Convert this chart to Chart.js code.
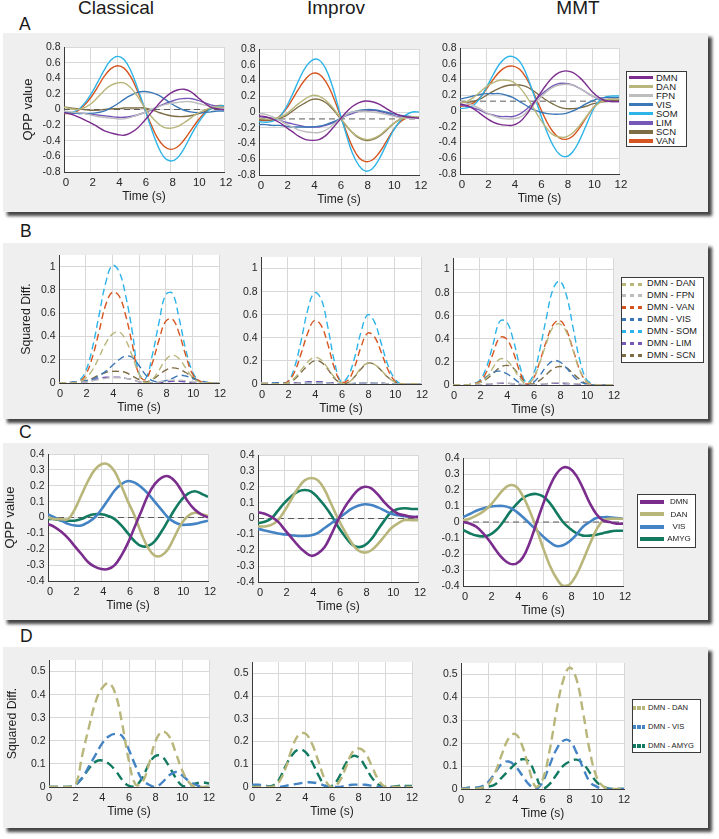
<!DOCTYPE html>
<html><head><meta charset="utf-8">
<script src="https://cdn.jsdelivr.net/npm/chart.js@4/dist/chart.umd.min.js"></script>
<style>
html,body{margin:0;padding:0;background:#fff;}
body{width:719px;height:839px;position:relative;overflow:hidden;font-family:"Liberation Sans",Arial,sans-serif;color:#1a1a1a;}
.panel{position:absolute;background:#efefef;box-shadow:4px 4px 3px rgba(35,35,35,0.85);}
.lbl{position:absolute;white-space:nowrap;line-height:1;}
canvas{position:absolute;}
.legend{position:absolute;background:#fff;border:1.3px solid #3a3a3a;box-sizing:border-box;}
.li{position:absolute;white-space:nowrap;}
</style></head><body>
<script>
// ---------------- DATA ----------------
const timeS = [0,0.5,1,1.5,2,2.5,3,3.5,4,4.5,5,5.5,6,6.5,7,7.5,8,8.5,9,9.5,10,10.5,11,11.5,12];
const conditions = ['Classical','Improv','MMT'];
const panelLetters = ['A','B','C','D'];
const networksA = ['DMN','DAN','FPN','VIS','SOM','LIM','SCN','VAN'];
const pairsB = ['DMN - DAN','DMN - FPN','DMN - VAN','DMN - VIS','DMN - SOM','DMN - LIM','DMN - SCN'];
const networksC = ['DMN','DAN','VIS','AMYG'];
const pairsD = ['DMN - DAN','DMN - VIS','DMN - AMYG'];
const refLineA = [0, -0.088, 0.125];
const refLineC = [0, 0, 0];
const yRangeQppA = [-0.8, 0.8, 0.2];
const yRangeSqB = [0, 1.1, 0.2];
const yRangeQppC = [-0.4, 0.4, 0.1];
const yRangeSqD = [0, 0.55, 0.1];
const xRangeTime = [0, 12, 2];

// A - Classical
const aClassical_DMN = [-0.04,-0.06,-0.09,-0.13,-0.17,-0.22,-0.27,-0.30,-0.32,-0.33,-0.30,-0.24,-0.15,-0.05,0.05,0.14,0.21,0.25,0.26,0.23,0.16,0.09,0.03,0.01,0.0];
const aClassical_DAN = [0.03,0.01,0.0,0.02,0.07,0.15,0.24,0.31,0.34,0.34,0.28,0.17,0.04,-0.08,-0.17,-0.23,-0.24,-0.22,-0.17,-0.11,-0.05,-0.01,0.02,0.03,0.03];
const aClassical_FPN = [-0.02,-0.03,-0.04,-0.05,-0.07,-0.09,-0.10,-0.11,-0.12,-0.12,-0.10,-0.07,-0.04,0.0,0.03,0.06,0.08,0.09,0.10,0.10,0.08,0.06,0.04,0.03,0.02];
const aClassical_VIS = [-0.03,-0.04,-0.05,-0.05,-0.05,-0.04,-0.02,0.02,0.07,0.13,0.18,0.22,0.23,0.22,0.19,0.14,0.08,0.03,-0.01,-0.03,-0.04,-0.04,-0.03,-0.02,-0.02];
const aClassical_SOM = [-0.04,-0.04,-0.01,0.07,0.19,0.34,0.50,0.63,0.68,0.64,0.50,0.28,0.04,-0.22,-0.45,-0.61,-0.66,-0.62,-0.50,-0.34,-0.19,-0.07,0.01,0.04,0.05];
const aClassical_LIM = [-0.04,-0.04,-0.05,-0.05,-0.06,-0.07,-0.08,-0.09,-0.10,-0.10,-0.09,-0.07,-0.04,-0.01,0.03,0.07,0.10,0.13,0.14,0.14,0.12,0.09,0.06,0.04,0.03];
const aClassical_SCN = [0.03,0.02,0.01,0.0,-0.01,-0.01,0.0,0.01,0.01,0.02,0.02,0.02,0.02,0.0,-0.03,-0.06,-0.08,-0.09,-0.09,-0.08,-0.06,-0.03,0.01,0.03,0.04];
const aClassical_VAN = [-0.05,-0.05,-0.02,0.05,0.15,0.28,0.42,0.52,0.56,0.53,0.42,0.24,0.03,-0.18,-0.36,-0.47,-0.51,-0.48,-0.39,-0.27,-0.15,-0.05,0.02,0.05,0.05];
// A - Improv
const aImprov_DMN = [-0.05,-0.06,-0.09,-0.13,-0.19,-0.25,-0.31,-0.35,-0.36,-0.35,-0.30,-0.21,-0.11,-0.01,0.07,0.12,0.14,0.13,0.10,0.05,0.0,-0.04,-0.06,-0.07,-0.08];
const aImprov_DAN = [-0.08,-0.09,-0.09,-0.07,-0.03,0.04,0.11,0.17,0.21,0.20,0.15,0.06,-0.05,-0.16,-0.26,-0.32,-0.35,-0.34,-0.30,-0.23,-0.16,-0.10,-0.07,-0.06,-0.06];
const aImprov_FPN = [-0.02,-0.03,-0.06,-0.10,-0.15,-0.19,-0.23,-0.25,-0.26,-0.26,-0.23,-0.17,-0.10,-0.04,0.0,0.01,0.01,0.0,-0.01,-0.03,-0.05,-0.07,-0.08,-0.08,-0.08];
const aImprov_VIS = [-0.16,-0.16,-0.17,-0.17,-0.18,-0.19,-0.19,-0.19,-0.19,-0.18,-0.16,-0.13,-0.09,-0.04,0.0,0.02,0.03,0.03,0.02,0.0,-0.02,-0.04,-0.05,-0.06,-0.06];
const aImprov_SOM = [-0.12,-0.13,-0.12,-0.07,0.05,0.22,0.41,0.57,0.66,0.66,0.55,0.33,0.03,-0.26,-0.52,-0.68,-0.75,-0.72,-0.60,-0.43,-0.26,-0.13,-0.04,0.0,0.0];
const aImprov_LIM = [-0.06,-0.07,-0.08,-0.10,-0.13,-0.15,-0.17,-0.19,-0.19,-0.19,-0.17,-0.14,-0.10,-0.05,-0.02,0.01,0.02,0.02,0.01,-0.01,-0.04,-0.06,-0.07,-0.08,-0.08];
const aImprov_SCN = [-0.10,-0.10,-0.10,-0.08,-0.05,0.01,0.07,0.12,0.16,0.16,0.12,0.04,-0.06,-0.17,-0.26,-0.33,-0.36,-0.35,-0.31,-0.24,-0.16,-0.10,-0.07,-0.06,-0.06];
const aImprov_VAN = [-0.10,-0.11,-0.10,-0.06,0.03,0.16,0.30,0.42,0.49,0.48,0.39,0.22,0.0,-0.23,-0.44,-0.58,-0.63,-0.61,-0.52,-0.39,-0.25,-0.14,-0.08,-0.06,-0.06];
// A - MMT
const aMMT_DMN = [0.09,0.07,0.03,-0.03,-0.09,-0.14,-0.17,-0.18,-0.18,-0.14,-0.05,0.08,0.21,0.33,0.43,0.49,0.51,0.49,0.43,0.34,0.24,0.17,0.13,0.12,0.12];
const aMMT_DAN = [0.10,0.12,0.17,0.24,0.31,0.36,0.39,0.39,0.37,0.30,0.19,0.05,-0.09,-0.21,-0.30,-0.33,-0.33,-0.28,-0.19,-0.08,0.03,0.10,0.14,0.15,0.15];
const aMMT_FPN = [0.12,0.10,0.07,0.03,-0.02,-0.06,-0.09,-0.10,-0.10,-0.08,-0.02,0.07,0.16,0.24,0.30,0.33,0.34,0.33,0.29,0.24,0.19,0.16,0.15,0.15,0.15];
const aMMT_VIS = [0.15,0.17,0.19,0.21,0.22,0.22,0.22,0.20,0.17,0.12,0.07,0.02,-0.01,-0.03,-0.04,-0.04,-0.03,0.0,0.04,0.09,0.13,0.16,0.17,0.17,0.17];
const aMMT_SOM = [0.03,0.04,0.07,0.16,0.30,0.46,0.60,0.68,0.69,0.63,0.47,0.24,0.0,-0.24,-0.43,-0.55,-0.58,-0.52,-0.38,-0.19,0.0,0.13,0.18,0.19,0.19];
const aMMT_LIM = [0.08,0.06,0.04,0.01,-0.03,-0.05,-0.07,-0.07,-0.07,-0.04,0.02,0.10,0.19,0.26,0.32,0.35,0.35,0.33,0.29,0.24,0.19,0.15,0.13,0.12,0.12];
const aMMT_SCN = [0.12,0.11,0.12,0.15,0.20,0.25,0.29,0.32,0.33,0.33,0.31,0.26,0.20,0.14,0.09,0.05,0.03,0.03,0.04,0.06,0.09,0.11,0.12,0.13,0.13];
const aMMT_VAN = [0.06,0.07,0.10,0.17,0.28,0.40,0.50,0.56,0.57,0.53,0.42,0.25,0.06,-0.12,-0.26,-0.34,-0.36,-0.32,-0.22,-0.09,0.03,0.11,0.14,0.15,0.15];

// B - Classical (squared differences)
const bClassical_DAN = [0,0,0,0.01,0.04,0.11,0.22,0.34,0.42,0.44,0.37,0.23,0.08,0.0,0.03,0.11,0.2,0.24,0.21,0.13,0.05,0.01,0,0,0];
const bClassical_FPN = [0,0,0,0.01,0.01,0.02,0.03,0.04,0.045,0.045,0.04,0.03,0.01,0,0,0.01,0.02,0.025,0.025,0.02,0.01,0.01,0,0,0];
const bClassical_VAN = [0,0,0,0.01,0.07,0.22,0.44,0.67,0.78,0.75,0.58,0.33,0.07,0.03,0.17,0.37,0.53,0.55,0.43,0.24,0.08,0.02,0,0,0];
const bClassical_VIS = [0,0,0.01,0.01,0.02,0.03,0.06,0.1,0.15,0.2,0.23,0.22,0.15,0.07,0.02,0.01,0.02,0.04,0.065,0.06,0.04,0.02,0.01,0,0];
const bClassical_SOM = [0,0,0,0.02,0.1,0.3,0.58,0.86,1.01,0.96,0.75,0.44,0.08,0.04,0.24,0.52,0.76,0.77,0.56,0.29,0.1,0.02,0,0,0];
const bClassical_LIM = [0,0,0,0.01,0.01,0.02,0.04,0.05,0.05,0.05,0.04,0.03,0.01,0,0,0,0.01,0.015,0.015,0.01,0,0,0,0,0];
const bClassical_SCN = [0,0,0,0.01,0.02,0.04,0.07,0.09,0.1,0.1,0.09,0.06,0.03,0.01,0.03,0.07,0.11,0.13,0.12,0.09,0.05,0.02,0,0,0];
// B - Improv
const bImprov_DAN = [0,0,0,0,0.01,0.05,0.12,0.19,0.23,0.21,0.14,0.06,0.01,0.01,0.06,0.14,0.18,0.17,0.12,0.06,0.02,0,0,0,0];
const bImprov_FPN = [0.01,0.01,0,0,0,0,0.01,0.01,0.01,0.01,0.01,0,0,0,0.01,0.01,0.01,0.01,0.01,0,0,0,0,0,0];
const bImprov_VAN = [0,0,0,0,0.02,0.1,0.26,0.44,0.55,0.51,0.35,0.14,0.02,0.03,0.14,0.32,0.44,0.41,0.28,0.13,0.03,0,0,0,0];
const bImprov_VIS = [0.01,0.01,0.01,0.01,0,0,0,0.01,0.01,0.01,0.01,0,0,0,0,0.01,0.01,0.01,0.01,0,0,0,0,0,0];
const bImprov_SOM = [0.01,0.01,0.01,0.01,0.02,0.14,0.37,0.64,0.79,0.74,0.5,0.2,0.02,0.06,0.22,0.45,0.6,0.54,0.36,0.17,0.05,0,0,0,0];
const bImprov_LIM = [0,0,0,0,0,0.01,0.01,0.02,0.02,0.02,0.01,0.01,0,0,0,0.01,0.01,0.01,0.01,0,0,0,0,0,0];
const bImprov_SCN = [0,0,0,0,0.01,0.04,0.1,0.16,0.2,0.19,0.13,0.05,0.01,0.01,0.06,0.13,0.18,0.17,0.12,0.06,0.02,0,0,0,0];
// B - MMT
const bMMT_DAN = [0,0,0,0.01,0.02,0.06,0.15,0.225,0.215,0.15,0.06,0.01,0.05,0.19,0.36,0.5,0.53,0.46,0.3,0.13,0.03,0,0,0,0];
const bMMT_FPN = [0,0,0,0,0,0.01,0.01,0.02,0.02,0.01,0.01,0,0,0.01,0.01,0.02,0.02,0.02,0.01,0.01,0,0,0,0,0];
const bMMT_VAN = [0,0,0,0.01,0.03,0.11,0.27,0.41,0.4,0.29,0.12,0.01,0.05,0.2,0.38,0.52,0.56,0.48,0.31,0.13,0.03,0,0,0,0];
const bMMT_VIS = [0,0,0,0.01,0.03,0.07,0.11,0.12,0.1,0.06,0.02,0.0,0.02,0.08,0.16,0.21,0.2,0.15,0.08,0.03,0.01,0,0,0,0];
const bMMT_SOM = [0,0,0,0.01,0.04,0.15,0.35,0.55,0.55,0.4,0.17,0.02,0.08,0.3,0.58,0.83,0.9,0.78,0.5,0.22,0.05,0.01,0,0,0];
const bMMT_LIM = [0,0,0,0,0,0.005,0.01,0.015,0.015,0.01,0.005,0,0,0.005,0.01,0.015,0.015,0.01,0.01,0.005,0,0,0,0,0];
const bMMT_SCN = [0,0,0,0.01,0.02,0.05,0.1,0.15,0.17,0.15,0.08,0.02,0.01,0.04,0.09,0.14,0.16,0.15,0.1,0.05,0.01,0,0,0,0];

// C - Classical
const cClassical_DMN = [-0.04,-0.06,-0.09,-0.13,-0.18,-0.23,-0.28,-0.31,-0.325,-0.325,-0.30,-0.24,-0.16,-0.06,0.04,0.14,0.21,0.25,0.26,0.23,0.17,0.1,0.05,0.02,0.0];
const cClassical_DAN = [0.0,-0.01,-0.01,-0.01,0.05,0.14,0.23,0.30,0.335,0.335,0.29,0.2,0.1,0.01,-0.1,-0.19,-0.24,-0.24,-0.2,-0.12,-0.04,0.01,0.03,0.02,0.01];
const cClassical_VIS = [0.02,0.0,-0.02,-0.04,-0.05,-0.05,-0.03,0.0,0.05,0.11,0.17,0.21,0.23,0.22,0.19,0.15,0.1,0.05,0.0,-0.03,-0.045,-0.045,-0.04,-0.03,-0.02];
const cClassical_AMYG = [-0.01,-0.01,-0.02,-0.02,-0.02,-0.01,0.01,0.02,0.02,0.01,-0.01,-0.05,-0.1,-0.15,-0.18,-0.18,-0.15,-0.09,-0.02,0.05,0.11,0.15,0.165,0.15,0.13];
// C - Improv
const cImprov_DMN = [0.04,0.03,0.01,-0.02,-0.07,-0.12,-0.17,-0.21,-0.235,-0.22,-0.18,-0.1,-0.01,0.07,0.13,0.18,0.2,0.19,0.15,0.1,0.06,0.03,0.02,0.01,0.01];
const cImprov_DAN = [-0.05,-0.05,-0.04,-0.01,0.05,0.12,0.19,0.24,0.255,0.24,0.18,0.09,0.0,-0.08,-0.15,-0.2,-0.215,-0.2,-0.16,-0.11,-0.06,-0.03,-0.01,-0.01,-0.01];
const cImprov_VIS = [-0.065,-0.075,-0.085,-0.095,-0.1,-0.105,-0.11,-0.11,-0.105,-0.09,-0.06,-0.03,0.0,0.03,0.06,0.08,0.09,0.085,0.07,0.05,0.03,0.02,0.015,0.01,0.01];
const cImprov_AMYG = [-0.03,-0.02,0.0,0.05,0.1,0.14,0.17,0.18,0.17,0.13,0.08,0.02,-0.05,-0.11,-0.16,-0.18,-0.17,-0.13,-0.07,-0.01,0.04,0.06,0.065,0.06,0.06];
// C - MMT
const cMMT_DMN = [0.0,-0.01,-0.03,-0.07,-0.12,-0.18,-0.23,-0.26,-0.26,-0.22,-0.13,-0.01,0.11,0.22,0.3,0.34,0.335,0.29,0.21,0.12,0.05,0.01,0.0,-0.01,-0.01];
const cMMT_DAN = [0.01,0.02,0.04,0.065,0.1,0.15,0.2,0.23,0.22,0.16,0.07,-0.04,-0.16,-0.27,-0.35,-0.4,-0.39,-0.33,-0.24,-0.14,-0.05,0.01,0.02,0.02,0.02];
const cMMT_VIS = [0.03,0.05,0.07,0.085,0.095,0.1,0.1,0.09,0.065,0.03,-0.01,-0.05,-0.09,-0.125,-0.15,-0.145,-0.12,-0.08,-0.03,0.0,0.025,0.03,0.03,0.025,0.02];
const cMMT_AMYG = [-0.05,-0.07,-0.085,-0.09,-0.08,-0.05,0.0,0.06,0.11,0.15,0.17,0.175,0.16,0.12,0.06,0.0,-0.04,-0.07,-0.085,-0.085,-0.08,-0.07,-0.06,-0.055,-0.055];

// D - Classical (squared differences)
const dClassical_DAN = [0,0,0,0,0.01,0.14,0.26,0.37,0.43,0.45,0.4,0.27,0.11,0.01,0.02,0.1,0.2,0.24,0.22,0.15,0.07,0.02,0.0,0.0,0.0];
const dClassical_VIS = [0,0,0,0,0.01,0.04,0.09,0.14,0.19,0.22,0.23,0.22,0.16,0.09,0.03,0.01,0.0,0.02,0.05,0.065,0.05,0.025,0.01,0,0];
const dClassical_AMYG = [0,0,0,0,0.01,0.04,0.08,0.11,0.115,0.1,0.07,0.03,0.005,0.005,0.04,0.1,0.135,0.13,0.09,0.04,0.005,0.005,0.015,0.02,0.015];
// D - Improv
const dImprov_DAN = [0,0,0,0,0.02,0.08,0.17,0.23,0.235,0.19,0.11,0.03,0.0,0.02,0.08,0.15,0.17,0.15,0.09,0.03,0.0,0,0,0,0];
const dImprov_VIS = [0.01,0.01,0.005,0.0,0.0,0.005,0.01,0.015,0.02,0.02,0.015,0.005,0.0,0.0,0.005,0.01,0.01,0.01,0.005,0.0,0.0,0.0,0.0,0,0];
const dImprov_AMYG = [0.005,0.005,0.005,0.005,0.03,0.09,0.14,0.165,0.155,0.11,0.05,0.005,0.005,0.04,0.1,0.135,0.13,0.09,0.04,0.01,0.0,0.0,0.005,0.005,0.005];
// D - MMT
const dMMT_DAN = [0,0,0,0.005,0.02,0.07,0.15,0.22,0.24,0.19,0.09,0.01,0.04,0.16,0.33,0.47,0.53,0.48,0.33,0.16,0.05,0.01,0,0,0];
const dMMT_VIS = [0,0.005,0.005,0.01,0.03,0.07,0.11,0.12,0.1,0.06,0.02,0.0,0.03,0.1,0.17,0.21,0.21,0.16,0.09,0.03,0.01,0,0,0,0];
const dMMT_AMYG = [0,0.005,0.005,0.005,0.01,0.02,0.05,0.08,0.11,0.13,0.12,0.06,0.0,0.02,0.06,0.1,0.12,0.128,0.11,0.07,0.03,0.01,0,0,0];

// ---------------- STYLE / LAYOUT ----------------
const COL = {DMN:'#7b2d8e', DAN:'#b9b67b', FPN:'#bdbdbd', VIS:'#3a77b6', SOM:'#2db4e8', LIM:'#7658b8', SCN:'#7e6c45', VAN:'#d6541f', AMYG:'#127a60', VIS2:'#4483c4'};
const colorsA = [COL.DMN,COL.DAN,COL.FPN,COL.VIS,COL.SOM,COL.LIM,COL.SCN,COL.VAN];
const colorsB = [COL.DAN,COL.FPN,COL.VAN,COL.VIS,COL.SOM,COL.LIM,COL.SCN];
const colorsC = [COL.DMN,COL.DAN,COL.VIS2,COL.AMYG];
const colorsD = [COL.DAN,COL.VIS2,COL.AMYG];

const seriesA = [
  [aClassical_DMN,aClassical_DAN,aClassical_FPN,aClassical_VIS,aClassical_SOM,aClassical_LIM,aClassical_SCN,aClassical_VAN],
  [aImprov_DMN,aImprov_DAN,aImprov_FPN,aImprov_VIS,aImprov_SOM,aImprov_LIM,aImprov_SCN,aImprov_VAN],
  [aMMT_DMN,aMMT_DAN,aMMT_FPN,aMMT_VIS,aMMT_SOM,aMMT_LIM,aMMT_SCN,aMMT_VAN]];
const seriesB = [
  [bClassical_DAN,bClassical_FPN,bClassical_VAN,bClassical_VIS,bClassical_SOM,bClassical_LIM,bClassical_SCN],
  [bImprov_DAN,bImprov_FPN,bImprov_VAN,bImprov_VIS,bImprov_SOM,bImprov_LIM,bImprov_SCN],
  [bMMT_DAN,bMMT_FPN,bMMT_VAN,bMMT_VIS,bMMT_SOM,bMMT_LIM,bMMT_SCN]];
const seriesC = [
  [cClassical_DMN,cClassical_DAN,cClassical_VIS,cClassical_AMYG],
  [cImprov_DMN,cImprov_DAN,cImprov_VIS,cImprov_AMYG],
  [cMMT_DMN,cMMT_DAN,cMMT_VIS,cMMT_AMYG]];
const seriesD = [
  [dClassical_DAN,dClassical_VIS,dClassical_AMYG],
  [dImprov_DAN,dImprov_VIS,dImprov_AMYG],
  [dMMT_DAN,dMMT_VIS,dMMT_AMYG]];

Chart.defaults.font.family = '"Liberation Sans", Arial, sans-serif';

function el(tag, cls, css, txt){
  const d = document.createElement(tag);
  if (cls) d.className = cls;
  Object.assign(d.style, css || {});
  if (txt !== undefined) d.textContent = txt;
  document.body.appendChild(d);
  return d;
}

// panels
[[3,33,705,179],[3,243,705,176],[3,443,705,177],[3,647,705,181]].forEach(p=>{
  el('div','panel',{left:p[0]+'px',top:p[1]+'px',width:p[2]+'px',height:p[3]+'px'});
});
// column titles
[[116,14],[336,14],[578,14]].forEach((p,i)=>{
  el('div','lbl',{left:(p[0]-60)+'px',width:'120px',textAlign:'center',top:(p[1]-16.1)+'px',fontSize:'19px'}, conditions[i]);
});
// panel letters
[[19,31],[20,237.7],[19,438.3],[20,642.7]].forEach((p,i)=>{
  el('div','lbl',{left:p[0]+'px',top:(p[1]-14.8)+'px',fontSize:'17.5px'}, panelLetters[i]);
});

const whiteBg = {id:'whiteBg', beforeDraw(c){const a=c.chartArea,ctx=c.ctx;ctx.save();ctx.fillStyle='#fff';ctx.fillRect(a.left,a.top,a.right-a.left,a.bottom-a.top);ctx.restore();}};

function fmt(v){ return String(Math.round(v*1000)/1000); }

function addChart(cfg){
  const [L,R,T,B] = cfg.box;
  const pt = 10, pr = 14, xH = 32;
  const left = Math.round(L - cfg.yW);
  const yW = L - left;
  const W = yW + (R-L) + pr, H = pt + (B-T) + xH;
  const cv = document.createElement('canvas');
  cv.width = W; cv.height = H;
  Object.assign(cv.style,{left:left+'px',top:(T-pt)+'px',width:W+'px',height:H+'px'});
  document.body.appendChild(cv);
  const datasets = cfg.series.map((arr,i)=>({
    label: cfg.names[i],
    data: arr.map((v,j)=>({x:timeS[j], y:v})),
    borderColor: cfg.colors[i], borderWidth: cfg.lw, borderDash: cfg.dash || [],
    pointRadius:0, tension:0.4, fill:false, borderJoinStyle:'round'
  }));
  if (cfg.ref !== undefined) {
    datasets.push({label:'ref', data:[{x:xRangeTime[0],y:cfg.ref},{x:xRangeTime[1],y:cfg.ref}],
      borderColor:'#5a5a5a', borderWidth:1, borderDash:[6,4], pointRadius:0, tension:0});
  }
  const [ymin,ymax,ystep] = cfg.yr;
  new Chart(cv,{
    type:'line',
    data:{datasets},
    options:{
      responsive:false, animation:false, events:[],
      layout:{padding:{left:0,top:pt,right:pr,bottom:0}},
      plugins:{legend:{display:false}, tooltip:{enabled:false}},
      scales:{
        x:{type:'linear', min:xRangeTime[0], max:xRangeTime[1],
           ticks:{stepSize:xRangeTime[2], autoSkip:false, maxRotation:0, padding:4, labelOffset:cfg.lo||0,
                  font:{size:cfg.xf}, color:'#262626', callback:fmt},
           grid:{color:'#d8d8d8', drawTicks:false}, border:{color:'#3a3a3a', width:1},
           title:{display:true, text:'Time (s)', font:{size:12}, color:'#1e1e1e', padding:0},
           afterFit(s){ s.height = xH; }},
        y:{type:'linear', min:ymin, max:ymax,
           ticks:{stepSize:ystep, includeBounds:false, padding:3.5, font:{size:10.5}, color:'#262626', callback:fmt},
           grid:{color:'#d8d8d8', drawTicks:false}, border:{color:'#3a3a3a', width:1},
           title:{display:!!cfg.yTitle, text:cfg.yTitle||'', font:{size:cfg.ytf||12}, color:'#1e1e1e', padding:0},
           afterFit(s){ s.width = yW; }}
      }
    },
    plugins:[whiteBg]
  });
}

const boxesA = [[64,224,47,172],[259,419,49,175],[460,619,48,174]];
const boxesB = [[59,219,255,383],[261,421,257,384],[453,613,258,385]];
const boxesC = [[48,208,454,581],[258,418,455,582],[463,623,458,586]];
const boxesD = [[49,209,660,787],[252,412,662,787],[461,624,663,789]];

for (let k=0;k<3;k++){
  addChart({box:boxesA[k], yW: k===0 ? 64-(28.3-7.8) : 40, yTitle: k===0?'QPP value':null, ytf:13,
    series:seriesA[k], names:networksA, colors:colorsA, lw:1.4, yr:yRangeQppA, ref:refLineA[k], xf:11.5, lo:2});
  addChart({box:boxesB[k], yW: k===0 ? 59-(26.7-7.4) : 40, yTitle: k===0?'Squared Diff.':null, ytf:12.3,
    series:seriesB[k], names:pairsB, colors:colorsB, lw:1.4, dash:[7,4], yr:yRangeSqB, xf:11, lo:1});
  addChart({box:boxesC[k], yW: k===0 ? 48-(11-7.8) : 40, yTitle: k===0?'QPP value':null, ytf:13,
    series:seriesC[k], names:networksC, colors:colorsC, lw:2.6, yr:yRangeQppC, ref:refLineC[k], xf:11, lo:2});
  addChart({box:boxesD[k], yW: k===0 ? 49-(12.7-7.4) : 40, yTitle: k===0?'Squared Diff.':null, ytf:12.3,
    series:seriesD[k], names:pairsD, colors:colorsD, lw:2.4, dash:[9,5], yr:yRangeSqD, xf:11, lo:0});
}

// ---------------- LEGENDS (HTML, built from the name arrays) ----------------
function legend(box, names, colors, o){
  el('div','legend',{left:box[0]+'px',top:box[1]+'px',width:(box[2]-box[0])+'px',height:(box[3]-box[1])+'px'});
  names.forEach((n,i)=>{
    const cy = o.y0 + i*o.pitch;
    const mk = {left:o.mx+'px', top:(cy-o.mh/2)+'px', width:o.mw+'px', height:o.mh+'px'};
    if (o.dashOn) mk.background = `repeating-linear-gradient(90deg, ${colors[i]} 0 ${o.dashOn}px, transparent ${o.dashOn}px ${o.dashOn+o.dashOff}px)`;
    else mk.background = colors[i];
    el('div','li',mk);
    const t = {top:(cy-o.fs*0.6)+'px', height:(o.fs*1.2)+'px', lineHeight:(o.fs*1.2)+'px', fontSize:o.fs+'px', color:'#1a1a1a'};
    if (o.tc) { t.left=(o.tc-20)+'px'; t.width='40px'; t.textAlign='center'; } else { t.left=o.tx+'px'; }
    el('div','li',t,n);
  });
}
legend([626,71,687,147], networksA, colorsA, {y0:77.3, pitch:9.1, mx:629, mw:24, mh:3.5, tx:656, fs:9.5});
legend([621,277,704,363], pairsB, colorsB, {y0:284, pitch:11.95, mx:622, mw:20, mh:3, dashOn:4, dashOff:4, tx:647, fs:9.2});
legend([637,494,696,548], networksC, colorsC, {y0:502, pitch:12.3, mx:640, mw:24, mh:4, tc:679, fs:8});
legend([632,699,701,753], pairsD, colorsD, {y0:708, pitch:19, mx:633, mw:12, mh:4.5, dashOn:3, dashOff:1.5, tx:648, fs:7.6});
</script>
</body></html>
